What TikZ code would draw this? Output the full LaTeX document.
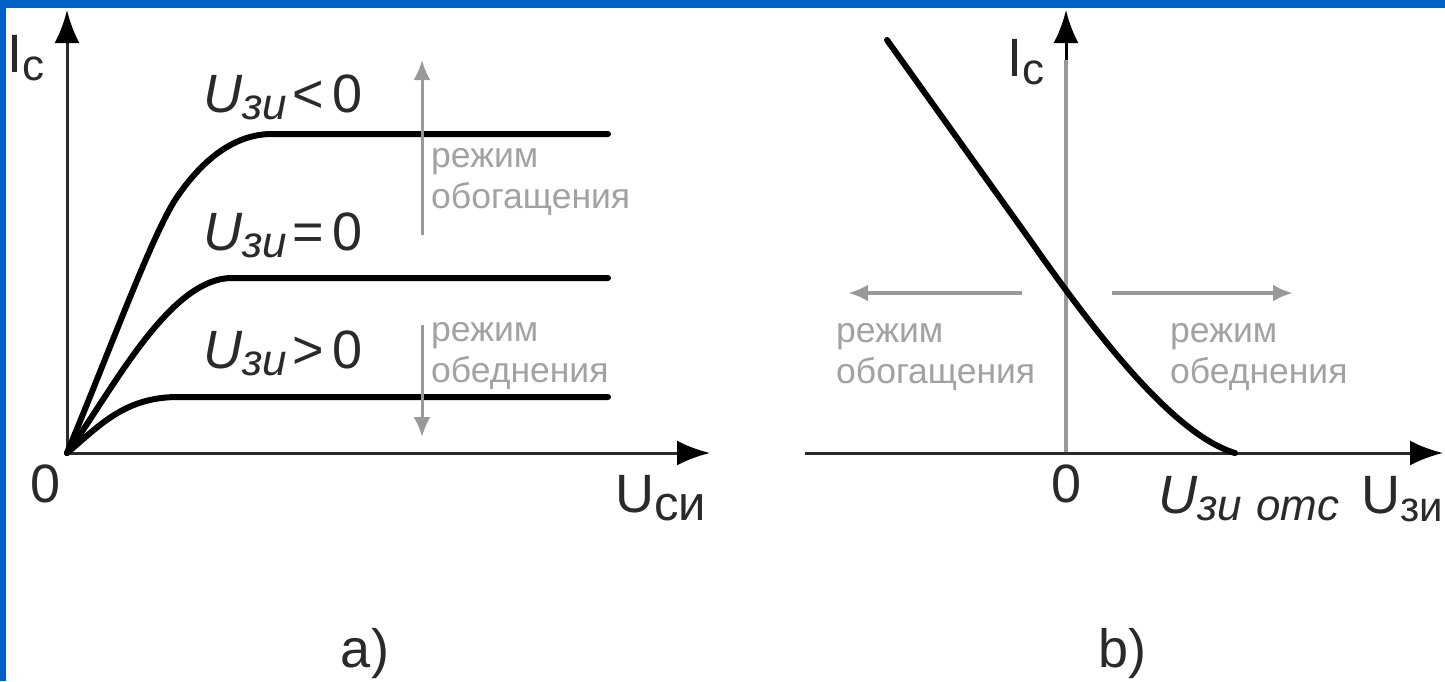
\documentclass[tikz,border=0pt]{standalone}
\usepackage{fontspec}
\setmainfont{Liberation Sans}
\usetikzlibrary{arrows.meta}
\definecolor{bgblue}{HTML}{0061C8}
\definecolor{modegrey}{HTML}{A2A2A2}
\definecolor{arrgrey}{HTML}{999999}
\definecolor{labelblk}{HTML}{2A2A2A}
\tikzset{
  axisline/.style={draw=labelblk,line width=3pt,-{Latex[length=33pt,width=25pt,black]}},
  curveline/.style={draw=black,line width=6pt,line cap=round},
  greyarrow/.style={draw=arrgrey,line width=3pt,-{Latex[length=20pt,width=17pt,arrgrey]}},
  modetext/.style={text=modegrey,font=\fontsize{35.5}{41}\selectfont,anchor=north west,inner sep=0pt,align=left},
  lab/.style={text=labelblk,font=\fontsize{54}{58}\selectfont,inner sep=0pt,anchor=base west},
  captext/.style={text=labelblk,font=\fontsize{54}{58}\selectfont,inner sep=0pt,anchor=base},
}
\newcommand{\Uzi}{\textit{U}{\fontsize{44}{46}\selectfont\raisebox{-7pt}{\textit{зи}}}}
\newcommand{\sbt}[1]{{\fontsize{44}{46}\selectfont\raisebox{-8pt}{#1}}}
\begin{document}
\begin{tikzpicture}[x=1pt,y=-1pt]
\useasboundingbox (0,0) rectangle (1445,681);
\fill[bgblue] (0,0) rectangle (1445,681);
\fill[white] (6,8) rectangle (1445,681);
% Left plot
\coordinate (o1) at (67,453);
\coordinate (y1) at (67,10);
\coordinate (x1) at (710,453);
\draw[axisline] (o1) -- (y1);
\draw[axisline] (o1) -- (x1);
\coordinate (t1) at (272,134);
\coordinate (t1e) at (608,134);
\coordinate (t2) at (232,278);
\coordinate (t2e) at (608,278);
\coordinate (t3) at (178,397);
\coordinate (t3e) at (608,397);
\draw[curveline] (o1) .. controls (110,350) and (150,240) .. (175,200) .. controls (205,155) and (238,134) .. (t1) -- (t1e);
\draw[curveline] (o1) .. controls (110,395) and (168,278) .. (t2) -- (t2e);
\draw[curveline] (o1) .. controls (100,425) and (125,397) .. (t3) -- (t3e);
\coordinate (ga) at (422,235);
\coordinate (gb) at (422,60);
\coordinate (gc) at (422,325);
\coordinate (gd) at (422,437);
\draw[greyarrow] (ga) -- (gb);
\draw[greyarrow] (gc) -- (gd);
\node[lab] (ic1) at (7,72) {I\sbt{c}};
\node[lab] (u1) at (203,112) {\Uzi\hspace{5pt}<\,0};
\node[lab] (u2) at (203,250) {\Uzi\hspace{5pt}=\,0};
\node[lab] (u3) at (203,368) {\Uzi\hspace{5pt}>\,0};
\node[modetext] (m1) at (431,148) {режим\\обогащения};
\node[modetext] (m2) at (431,322) {режим\\обеднения};
\node[lab] (z1) at (30,502) {0};
\node[lab] (us) at (615,512) {U{\fontsize{49}{50}\selectfont\raisebox{-8pt}{си}}};
\node[captext] (a) at (365,667) {a)};
% Right plot
\coordinate (o2) at (1066,453);
\coordinate (y2) at (1066,10);
\coordinate (yb) at (1066,60);
\coordinate (xl) at (805,453);
\coordinate (xr) at (1443,453);
\draw[draw=arrgrey,line width=4pt] (o2) -- (yb);
\draw[axisline,draw=black,line width=3pt] (yb) -- (y2);
\draw[axisline] (xl) -- (xr);
\coordinate (c0) at (887,40);
\coordinate (c1) at (1235,453);
\draw[curveline] (c0) -- (1030,240) .. controls (1100,340) and (1175,435) .. (c1);
\coordinate (la) at (1022,293);
\coordinate (lb) at (848,293);
\coordinate (ra) at (1112,293);
\coordinate (rb) at (1293,293);
\draw[greyarrow,line width=4pt] (la) -- (lb);
\draw[greyarrow,line width=4pt] (ra) -- (rb);
\node[lab] (ic2) at (1007,76) {I\sbt{c}};
\node[modetext] (m3) at (836,323) {режим\\обогащения};
\node[modetext] (m4) at (1170,323) {режим\\обеднения};
\node[lab] (z2) at (1051,502) {0};
\node[lab] (uo) at (1158,513) {\Uzi\hspace{14pt}{\fontsize{44}{46}\selectfont\raisebox{-7pt}{\textit{отс}}}};
\node[lab] (uz) at (1361,513) {U{\fontsize{42}{46}\selectfont\raisebox{-8pt}{зи}}};
\node[captext] (b) at (1122,667) {b)};
\end{tikzpicture}
\end{document}
